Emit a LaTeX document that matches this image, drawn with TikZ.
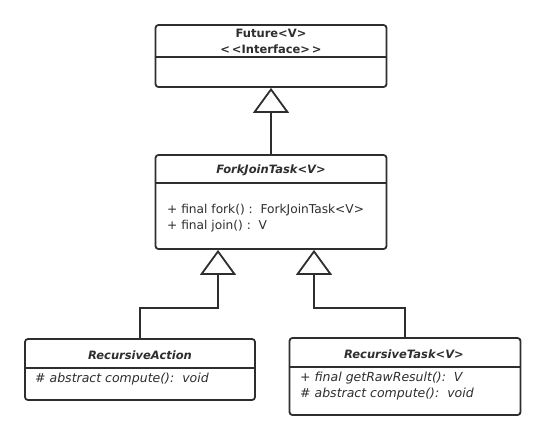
\documentclass[tikz,border=0pt]{standalone}
\usepackage{fontspec}
\setmainfont{DejaVu Sans}
\usetikzlibrary{arrows.meta,calc}
\definecolor{ink}{HTML}{2E2E2E}
\begin{document}
\begin{tikzpicture}[x=1pt,y=-1pt,
  box/.style={draw=ink,line width=1.8pt,rounded corners=3pt,fill=white,inner sep=0pt},
  sep/.style={draw=ink,line width=1.3pt},
  ttl/.style={font=\fontsize{11.5}{14}\selectfont\bfseries\itshape,text=ink,inner sep=0pt},
  itf/.style={font=\fontsize{11.5}{14}\selectfont\bfseries,text=ink,inner sep=0pt},
  mth/.style={font=\fontsize{12.2}{14}\selectfont,text=ink,inner sep=0pt,anchor=west},
  mti/.style={font=\fontsize{12.5}{14}\selectfont\itshape,text=ink,inner sep=0pt,anchor=west},
  inh/.style={draw=ink,line width=1.8pt,-{Triangle[open,length=25pt,width=36pt,fill=white]}}]
\useasboundingbox[fill=white] (0,0) rectangle (544,440);

% Future
\node[box,minimum width=231pt,minimum height=62pt] (future) at (271,56) {};
\draw[sep] (future.west |- 0,57) -- (future.east |- 0,57);
\node[itf] (futname) at (271,33) {Future<V>};
\node[itf] (futst) at (271,49) {<\,<Interface>\,>};

% ForkJoinTask
\node[box,minimum width=231pt,minimum height=94pt] (fjt) at (271,202) {};
\draw[sep] (fjt.west |- 0,183) -- (fjt.east |- 0,183);
\node[ttl] (fjtname) at (271,170) {ForkJoinTask<V>};
\node[mth] (fjtm1) at (167,210) {+ final fork() :\ \ ForkJoinTask<V>};
\node[mth] (fjtm2) at (167,226) {+ final join() :\ \ V};

% RecursiveAction
\node[box,minimum width=230pt,minimum height=61pt] (ra) at (140,369.5) {};
\draw[sep] (ra.west |- 0,368) -- (ra.east |- 0,368);
\node[ttl] (raname) at (140,355) {RecursiveAction};
\node[mti] (ram1) at (35,379) {\# abstract compute():\ \ void};

% RecursiveTask
\node[box,minimum width=231pt,minimum height=77pt] (rt) at (405,376.5) {};
\draw[sep] (rt.west |- 0,367) -- (rt.east |- 0,367);
\node[ttl] (rtname) at (404,354) {RecursiveTask<V>};
\node[mti] (rtm1) at (300,378) {+ final getRawResult():\ \ V};
\node[mti] (rtm2) at (300,394) {\# abstract compute():\ \ void};

% inheritance
\draw[inh] (fjt.north) -- (future.south);
\coordinate (lj) at (218,308);
\coordinate (rj) at (314,308);
\draw[inh] (ra.north) |- (lj) -- (lj |- fjt.south);
\draw[inh] (rt.north) |- (rj) -- (rj |- fjt.south);
\end{tikzpicture}
\end{document}
